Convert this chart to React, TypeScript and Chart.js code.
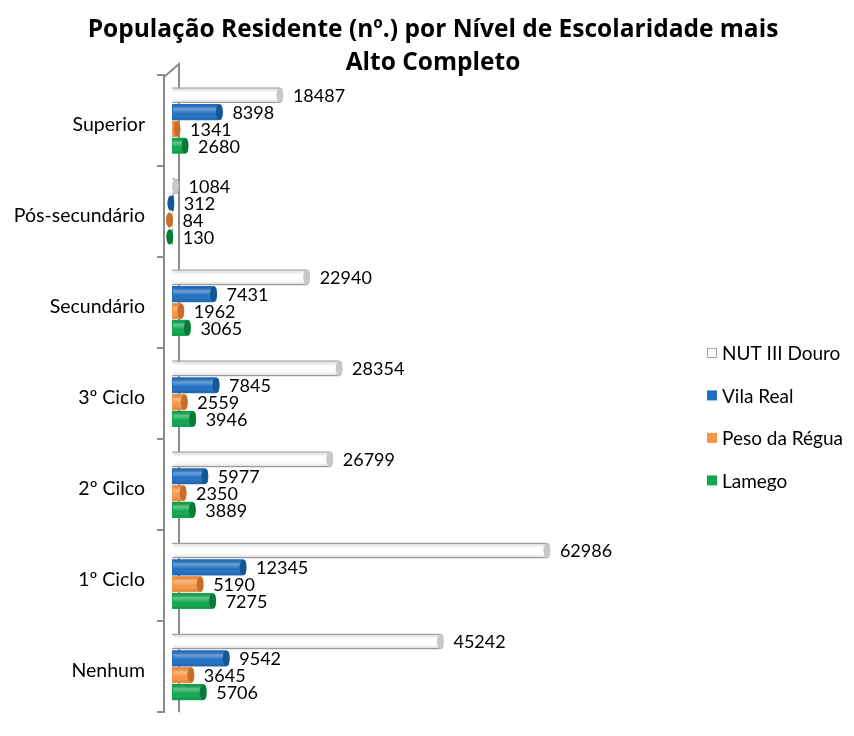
import { useEffect, useRef } from 'react';
import { Chart, registerables } from 'chart.js';

Chart.register(...registerables);

const FONT = 'Lato, "Open Sans", sans-serif';
const TITLE_FONT = '"Open Sans", Lato, sans-serif';

const categories = ['Superior', 'Pós-secundário', 'Secundário', '3º Ciclo', '2º Cilco', '1º Ciclo', 'Nenhum'];
const seriesNames = ['NUT III Douro', 'Vila Real', 'Peso da Régua', 'Lamego'];
const nutDouro = [18487, 1084, 22940, 28354, 26799, 62986, 45242];
const vilaReal = [8398, 312, 7431, 7845, 5977, 12345, 9542];
const pesoRegua = [1341, 84, 1962, 2559, 2350, 5190, 3645];
const lamego = [2680, 130, 3065, 3946, 3889, 7275, 5706];
const titleLines = ['População Residente (nº.) por Nível de Escolaridade mais', 'Alto Completo'];

const fills = ['#ffffff', '#1f6fc2', '#f79646', '#0fa84f'];
const borders = ['#a6a6a6', '#1a5fa8', '#d9782f', '#0b8a40'];
const capColors = ['#c8c8c8', '#155796', '#c96d2a', '#0a7a38'];

const wallPlugin = {
  id: 'wall',
  beforeDatasetsDraw(chart: any) {
    const { ctx, chartArea } = chart;
    const l = chartArea.left;
    ctx.save();
    ctx.strokeStyle = '#8c8c8c';
    ctx.lineWidth = 2;
    ctx.beginPath();
    ctx.moveTo(l, chartArea.top + 2);
    ctx.lineTo(l + 15, chartArea.top - 11);
    ctx.lineTo(l + 15, chartArea.bottom);
    ctx.stroke();
    ctx.restore();
  },
};

const shadePlugin = {
  id: 'shade',
  afterDatasetsDraw(chart: any) {
    const ctx = chart.ctx;
    ctx.save();
    chart.data.datasets.forEach((_ds: any, i: number) => {
      const meta = chart.getDatasetMeta(i);
      meta.data.forEach((el: any) => {
        const { x, y, base, height } = el.getProps(['x', 'y', 'base', 'height'], true);
        const top = y - height / 2;
        const g = ctx.createLinearGradient(0, top, 0, top + height);
        g.addColorStop(0, 'rgba(0,0,0,0.05)');
        g.addColorStop(0.3, 'rgba(255,255,255,0.35)');
        g.addColorStop(0.6, 'rgba(255,255,255,0)');
        g.addColorStop(1, 'rgba(0,0,0,0.22)');
        ctx.fillStyle = g;
        const w = Math.max(x - base - 3, 0);
        ctx.fillRect(base + 1, top + 1, w, height - 2);
        ctx.beginPath();
        ctx.ellipse(x - 3, y, 3.5, height / 2 - 0.5, 0, 0, Math.PI * 2);
        ctx.fillStyle = capColors[i];
        ctx.fill();
      });
    });
    ctx.restore();
  },
};

const labelPlugin = {
  id: 'valueLabels',
  afterDatasetsDraw(chart: any) {
    const ctx = chart.ctx;
    ctx.save();
    ctx.font = `18px ${FONT}`;
    ctx.fillStyle = '#000';
    ctx.textAlign = 'left';
    ctx.textBaseline = 'middle';
    chart.data.datasets.forEach((ds: any, i: number) => {
      const meta = chart.getDatasetMeta(i);
      meta.data.forEach((el: any, j: number) => {
        ctx.fillText(String(ds.data[j]), el.x + 10, el.y + 1);
      });
    });
    ctx.restore();
  },
};

const legendPlugin = {
  id: 'sideLegend',
  afterDraw(chart: any) {
    const { ctx, chartArea } = chart;
    const x0 = chart.width - 147;
    const mid = (chartArea.top + chartArea.bottom) / 2;
    const step = 42.5;
    const y0 = mid - 1.5 * step + 23;
    ctx.save();
    ctx.font = `19px ${FONT}`;
    ctx.textAlign = 'left';
    ctx.textBaseline = 'middle';
    chart.data.datasets.forEach((ds: any, i: number) => {
      const y = y0 + i * step;
      ctx.fillStyle = fills[i];
      ctx.fillRect(x0, y - 5, 10, 10);
      if (i === 0) {
        ctx.strokeStyle = '#a6a6a6';
        ctx.lineWidth = 1;
        ctx.strokeRect(x0 + 0.5, y - 4.5, 9, 9);
      }
      ctx.fillStyle = '#000';
      ctx.fillText(ds.label, x0 + 15, y + 1);
    });
    ctx.restore();
  },
};

export default function App() {
  const ref = useRef<HTMLCanvasElement | null>(null);

  useEffect(() => {
    if (!ref.current) return;
    const seriesData = [nutDouro, vilaReal, pesoRegua, lamego];
    const chart = new Chart(ref.current, {
      type: 'bar',
      data: {
        labels: categories,
        datasets: seriesData.map((d, i) => ({
          label: seriesNames[i],
          data: d,
          backgroundColor: fills[i],
          borderColor: borders[i],
          borderWidth: i === 0 ? 1.5 : 0,
          borderRadius: 4,
          borderSkipped: 'start',
          categoryPercentage: 0.74,
          barPercentage: 0.96,
        })),
      },
      options: {
        indexAxis: 'y',
        animation: false,
        responsive: false,
        layout: { padding: { left: 12, right: 0, top: 0, bottom: 0 } },
        scales: {
          x: {
            display: false,
            min: -1333,
            max: 113667,
          },
          y: {
            afterFit: (scale: any) => {
              scale.width = 152;
            },
            ticks: {
              color: '#000',
              font: { family: FONT, size: 19.5 },
              padding: 12,
              labelOffset: 4,
            },
            grid: {
              display: true,
              drawOnChartArea: false,
              drawTicks: true,
              tickLength: 7,
              color: '#8c8c8c',
              lineWidth: 2,
            },
            border: { display: true, color: '#8c8c8c', width: 2 },
          },
        },
        plugins: {
          legend: { display: false },
          tooltip: { enabled: false },
          title: {
            display: true,
            text: titleLines,
            color: '#000',
            font: { family: TITLE_FONT, size: 24.5, weight: 'bold', lineHeight: 33 / 24.5 },
            padding: { top: 13.5, bottom: -4.5 },
          },
        },
      },
      plugins: [wallPlugin, shadePlugin, labelPlugin, legendPlugin],
    } as any);
    return () => chart.destroy();
  }, []);

  return (
    <div style={{ position: 'absolute', left: 0, top: 0, width: 854, height: 736, background: '#fff' }}>
      <canvas ref={ref} width={854} height={736} style={{ width: 854, height: 736, display: 'block' }} />
    </div>
  );
}
